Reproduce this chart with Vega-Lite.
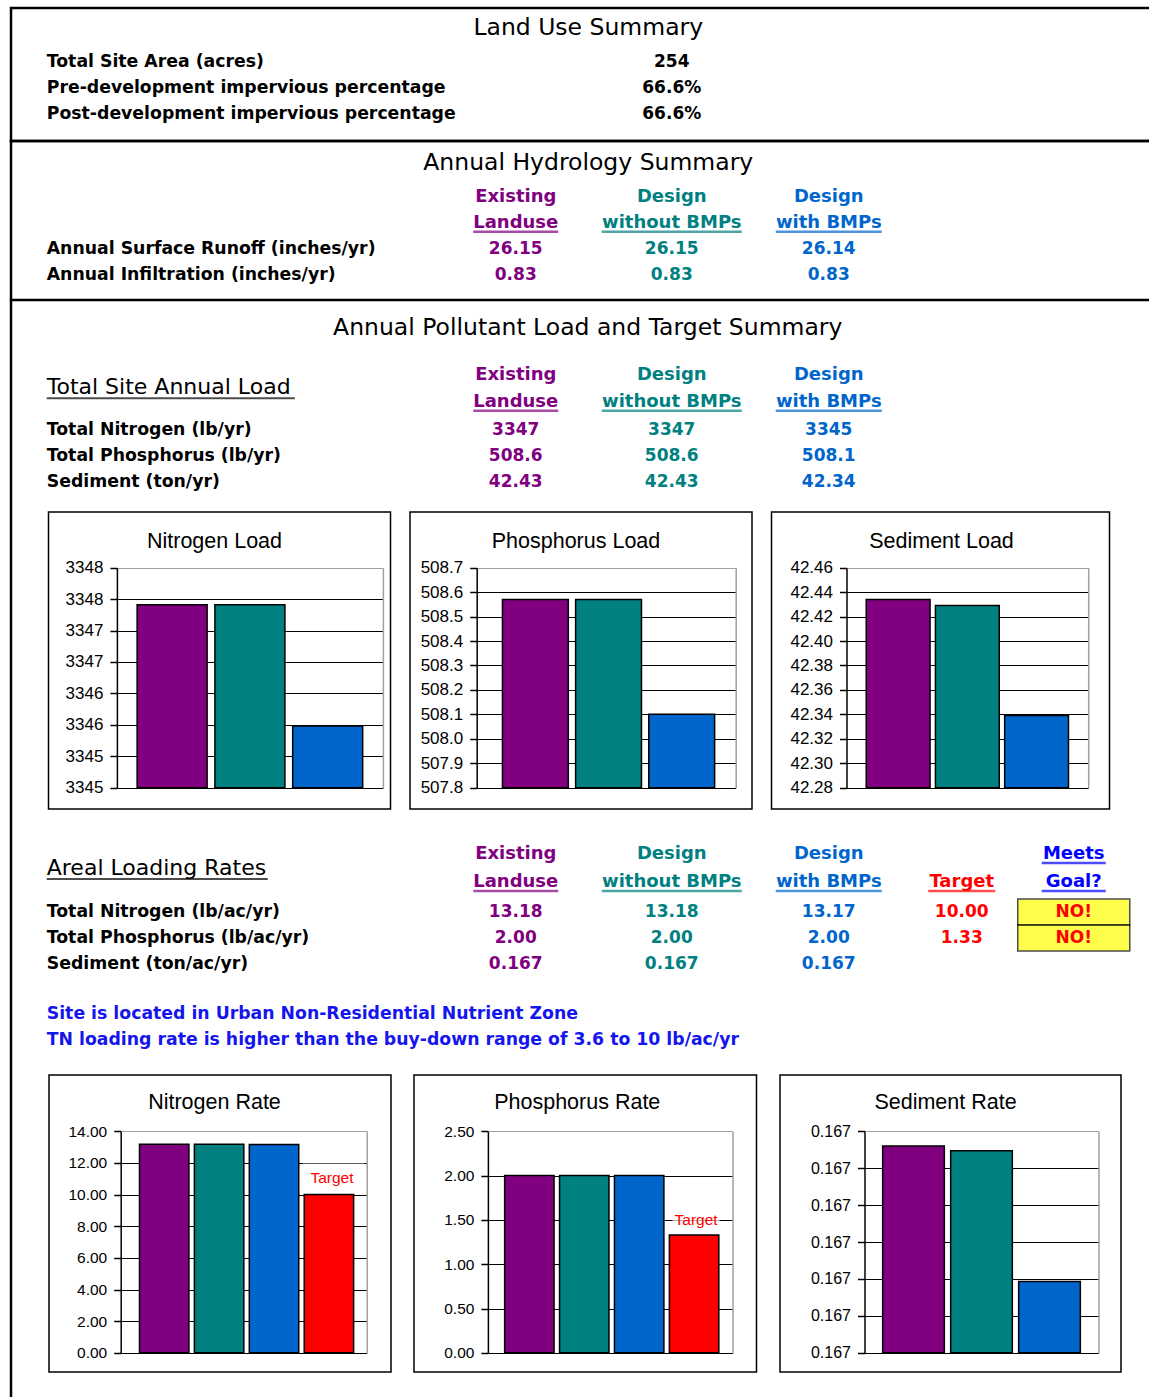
{
 "$schema": "https://vega.github.io/schema/vega-lite/v6.json",
 "background": "white",
 "padding": {"left": 9, "top": 6, "right": 0, "bottom": 0},
 "config": {
  "view": {"stroke": null},
  "font": "DejaVu Sans",
  "title": {"font": "DejaVu Sans", "fontSize": 23.5, "fontWeight": "normal", "color": "black", "frame": "group", "anchor": "middle", "baseline": "alphabetic"},
  "text": {"font": "DejaVu Sans", "baseline": "middle"},
  "axis": {"labelFont": "Liberation Sans", "labelColor": "black", "labelPadding": 7, "tickSize": 7, "tickColor": "black", "tickWidth": 1.5, "domainColor": "black", "domainWidth": 1.5, "gridWidth": 1.2, "gridOpacity": 1, "labelFlush": false, "labelOverlap": false, "labelBound": false}
 },
 "datasets": {
  "land": [
   {"r":1,"c":0,"t":"Total Site Area (acres)"},{"r":1,"c":2,"t":"254"},
   {"r":2,"c":0,"t":"Pre-development impervious percentage"},{"r":2,"c":2,"t":"66.6%"},
   {"r":3,"c":0,"t":"Post-development impervious percentage"},{"r":3,"c":2,"t":"66.6%"}
  ],
  "hyd": [
   {"r":1,"c":1,"t":"Existing"},{"r":1,"c":2,"t":"Design"},{"r":1,"c":3,"t":"Design"},
   {"r":2,"c":1,"t":"Landuse"},{"r":2,"c":2,"t":"without BMPs"},{"r":2,"c":3,"t":"with BMPs"},
   {"r":3,"c":0,"t":"Annual Surface Runoff (inches/yr)"},{"r":3,"c":1,"t":"26.15"},{"r":3,"c":2,"t":"26.15"},{"r":3,"c":3,"t":"26.14"},
   {"r":4,"c":0,"t":"Annual Infiltration (inches/yr)"},{"r":4,"c":1,"t":"0.83"},{"r":4,"c":2,"t":"0.83"},{"r":4,"c":3,"t":"0.83"}
  ],
  "load": [
   {"r":1,"c":1,"t":"Existing"},{"r":1,"c":2,"t":"Design"},{"r":1,"c":3,"t":"Design"},
   {"r":1.5,"c":0,"t":"Total Site Annual Load"},
   {"r":2,"c":1,"t":"Landuse"},{"r":2,"c":2,"t":"without BMPs"},{"r":2,"c":3,"t":"with BMPs"},
   {"r":3,"c":0,"t":"Total Nitrogen (lb/yr)"},{"r":3,"c":1,"t":"3347"},{"r":3,"c":2,"t":"3347"},{"r":3,"c":3,"t":"3345"},
   {"r":4,"c":0,"t":"Total Phosphorus (lb/yr)"},{"r":4,"c":1,"t":"508.6"},{"r":4,"c":2,"t":"508.6"},{"r":4,"c":3,"t":"508.1"},
   {"r":5,"c":0,"t":"Sediment (ton/yr)"},{"r":5,"c":1,"t":"42.43"},{"r":5,"c":2,"t":"42.43"},{"r":5,"c":3,"t":"42.34"}
  ],
  "areal": [
   {"r":1,"c":1,"t":"Existing"},{"r":1,"c":2,"t":"Design"},{"r":1,"c":3,"t":"Design"},{"r":1,"c":5,"t":"Meets"},
   {"r":1.5,"c":0,"t":"Areal Loading Rates"},
   {"r":2,"c":1,"t":"Landuse"},{"r":2,"c":2,"t":"without BMPs"},{"r":2,"c":3,"t":"with BMPs"},{"r":2,"c":4,"t":"Target"},{"r":2,"c":5,"t":"Goal?"},
   {"r":3,"c":0,"t":"Total Nitrogen (lb/ac/yr)"},{"r":3,"c":1,"t":"13.18"},{"r":3,"c":2,"t":"13.18"},{"r":3,"c":3,"t":"13.17"},{"r":3,"c":4,"t":"10.00"},{"r":3,"c":5,"t":"NO!"},
   {"r":4,"c":0,"t":"Total Phosphorus (lb/ac/yr)"},{"r":4,"c":1,"t":"2.00"},{"r":4,"c":2,"t":"2.00"},{"r":4,"c":3,"t":"2.00"},{"r":4,"c":4,"t":"1.33"},{"r":4,"c":5,"t":"NO!"},
   {"r":5,"c":0,"t":"Sediment (ton/ac/yr)"},{"r":5,"c":1,"t":"0.167"},{"r":5,"c":2,"t":"0.167"},{"r":5,"c":3,"t":"0.167"},
   {"r":6,"c":0,"t":"Site is located in Urban Non-Residential Nutrient Zone"},
   {"r":7,"c":0,"t":"TN loading rate is higher than the buy-down range of 3.6 to 10 lb/ac/yr"}
  ],
  "nload": [{"s":"Existing Landuse","v":3347.41},{"s":"Design without BMPs","v":3347.41},{"s":"Design with BMPs","v":3345.48}],
  "pload": [{"s":"Existing Landuse","v":508.57},{"s":"Design without BMPs","v":508.57},{"s":"Design with BMPs","v":508.1}],
  "sload": [{"s":"Existing Landuse","v":42.434},{"s":"Design without BMPs","v":42.429},{"s":"Design with BMPs","v":42.339}],
  "nrate": [{"s":"Existing Landuse","v":13.18},{"s":"Design without BMPs","v":13.18},{"s":"Design with BMPs","v":13.17},{"s":"Target","v":10.0}],
  "prate": [{"s":"Existing Landuse","v":2.0},{"s":"Design without BMPs","v":2.0},{"s":"Design with BMPs","v":2.0},{"s":"Target","v":1.33}],
  "srate": [{"s":"Existing Landuse","v":0.16706},{"s":"Design without BMPs","v":0.167047},{"s":"Design with BMPs","v":0.166693}]
 },
 "spacing": 0,
 "bounds": "flush",
 "resolve": {"scale": {"color": "independent"}},
 "vconcat": [
  {
   "width": 1138, "height": 133,
   "view": {"stroke": "black", "strokeWidth": 2.5, "strokeDash": [1138, 133, 1271]},
   "title": {"text": "Land Use Summary", "offset": -31.5, "dx": 8.25},
   "data": {"name": "land"},
   "encoding": {
    "x": {"field": "c", "type": "quantitative", "axis": null, "scale": {"domain": [0,1,2,3,4,5], "range": [35.75,504.75,660.75,817.75,950.75,1062.75], "zero": false, "nice": false}},
    "y": {"field": "r", "type": "quantitative", "axis": null, "scale": {"domain": [1,3], "range": [53.75,105.75], "zero": false, "nice": false}}
   },
   "layer": [
    {"transform": [{"filter": "datum.c == 0"}], "mark": {"type": "text", "align": "left", "fontWeight": "bold", "fontSize": 17.3, "color": "black"}, "encoding": {"text": {"field": "t", "type": "nominal"}}},
    {"transform": [{"filter": "datum.c > 0"}], "mark": {"type": "text", "align": "center", "fontWeight": "bold", "fontSize": 17, "color": "black"}, "encoding": {"text": {"field": "t", "type": "nominal"}}}
   ]
  },
  {
   "width": 1138, "height": 159,
   "view": {"stroke": "black", "strokeWidth": 2.5, "strokeDash": [1138, 159, 1297]},
   "title": {"text": "Annual Hydrology Summary", "offset": -33, "dx": 8.25},
   "data": {"name": "hyd"},
   "encoding": {
    "x": {"field": "c", "type": "quantitative", "axis": null, "scale": {"domain": [0,1,2,3,4,5], "range": [35.75,504.75,660.75,817.75,950.75,1062.75], "zero": false, "nice": false}},
    "y": {"field": "r", "type": "quantitative", "axis": null, "scale": {"domain": [1,4], "range": [55.75,133.75], "zero": false, "nice": false}}
   },
   "layer": [
    {"transform": [{"filter": "datum.r <= 2 && datum.c > 0"}], "mark": {"type": "text", "align": "center", "fontWeight": "bold", "fontSize": 18},
     "encoding": {"text": {"field": "t", "type": "nominal"}, "color": {"field": "c", "type": "ordinal", "scale": {"domain": [0,1,2,3,4,5], "range": ["black","#800080","#008080","#0066CC","#FF0000","#0000FF"]}, "legend": null}}},
    {"transform": [{"filter": "datum.c == 0"}], "mark": {"type": "text", "align": "left", "fontWeight": "bold", "fontSize": 17.3, "color": "black"}, "encoding": {"text": {"field": "t", "type": "nominal"}}},
    {"transform": [{"filter": "datum.r >= 3 && datum.c > 0"}], "mark": {"type": "text", "align": "center", "fontWeight": "bold", "fontSize": 17},
     "encoding": {"text": {"field": "t", "type": "nominal"}, "color": {"field": "c", "type": "ordinal", "legend": null}}},
    {"transform": [{"filter": "datum.r == 2 && datum.c > 0"}], "mark": {"type": "tick", "orient": "horizontal", "thickness": 2.3, "yOffset": 9},
     "encoding": {"color": {"field": "c", "type": "ordinal", "legend": null},
      "size": {"condition": [{"test": "datum.c == 1", "value": 85}, {"test": "datum.c == 2", "value": 140}], "value": 106}}}
   ]
  },
  {
   "spacing": 0,
   "bounds": "flush",
   "resolve": {"scale": {"color": "independent"}},
   "hconcat": [
    {
     "width": 2, "height": 1097.75,
     "data": {"values": [{}]},
     "mark": {"type": "rule", "strokeWidth": 2.5, "color": "black"},
     "encoding": {"x": {"datum": 0, "type": "quantitative", "scale": {"domain": [0, 1]}, "axis": null}}
    },
    {
     "spacing": 0,
     "resolve": {"scale": {"color": "independent"}},
     "vconcat": [
      {
       "width": 1136, "height": 211,
       "title": {"text": "Annual Pollutant Load and Target Summary", "offset": -39, "dx": 6.75},
       "data": {"name": "load"},
       "encoding": {
        "x": {"field": "c", "type": "quantitative", "axis": null, "scale": {"domain": [0,1,2,3,4,5], "range": [33.75,502.75,658.75,815.75,948.75,1060.75], "zero": false, "nice": false}},
        "y": {"field": "r", "type": "quantitative", "axis": null, "scale": {"domain": [1,2,3,5], "range": [74.75,101.75,129.75,181.75], "zero": false, "nice": false}}
       },
       "layer": [
        {"transform": [{"filter": "datum.r <= 2 && datum.c > 0"}], "mark": {"type": "text", "align": "center", "fontWeight": "bold", "fontSize": 18},
         "encoding": {"text": {"field": "t", "type": "nominal"}, "color": {"field": "c", "type": "ordinal", "scale": {"domain": [0,1,2,3,4,5], "range": ["black","#800080","#008080","#0066CC","#FF0000","#0000FF"]}, "legend": null}}},
        {"transform": [{"filter": "datum.r == 1.5"}], "mark": {"type": "text", "align": "left", "fontWeight": "normal", "fontSize": 22, "color": "black", "dy": -1}, "encoding": {"text": {"field": "t", "type": "nominal"}}},
        {"transform": [{"filter": "datum.c == 0 && datum.r >= 3"}], "mark": {"type": "text", "align": "left", "fontWeight": "bold", "fontSize": 17.3, "color": "black"}, "encoding": {"text": {"field": "t", "type": "nominal"}}},
        {"transform": [{"filter": "datum.r >= 3 && datum.c > 0"}], "mark": {"type": "text", "align": "center", "fontWeight": "bold", "fontSize": 17},
         "encoding": {"text": {"field": "t", "type": "nominal"}, "color": {"field": "c", "type": "ordinal", "legend": null}}},
        {"transform": [{"filter": "datum.r == 2 && datum.c > 0"}], "mark": {"type": "tick", "orient": "horizontal", "thickness": 2.3, "yOffset": 9},
         "encoding": {"color": {"field": "c", "type": "ordinal", "legend": null},
          "size": {"condition": [{"test": "datum.c == 1", "value": 85}, {"test": "datum.c == 2", "value": 140}], "value": 106}}},
        {"transform": [{"filter": "datum.r == 1.5"}], "mark": {"type": "tick", "orient": "horizontal", "thickness": 2, "size": 248, "xOffset": 124, "yOffset": 10, "color": "black"}}
       ]
      },
      {
       "spacing": 17.5,
       "hconcat": [
        {"width": 16.8, "height": 200, "data": {"values": [{}]}, "mark": {"type": "text", "text": ""}},
        {
         "width": 342, "height": 297,
         "view": {"stroke": "black", "strokeWidth": 1.5, "fill": "white"},
         "title": {"text": "Nitrogen Load", "font": "Liberation Sans", "fontSize": 21.5, "offset": -40, "dx": -5},
         "data": {"name": "nload"},
         "layer": [
          {"mark": {"type": "bar", "stroke": "black", "strokeWidth": 1.5},
           "encoding": {
            "x": {"field": "s", "type": "nominal", "sort": null, "axis": null, "scale": {"range": [68.4, 334.4], "paddingInner": 0.1, "paddingOuter": 0.26}},
            "y": {"field": "v", "type": "quantitative", "scale": {"domain": [3344.5, 3348], "range": [275.7, 55.7], "zero": false, "nice": false},
             "axis": {"orient": "left", "offset": -68.4, "title": null, "grid": true, "values": [3344.5,3345,3345.5,3346,3346.5,3347,3347.5,3348], "format": ".0f", "labelFontSize": 17,
              "gridColor": {"condition": {"test": "datum.value >= 3347.999", "value": "#a0a0a0"}, "value": "black"}}},
            "y2": {"datum": 3344.5},
            "color": {"field": "s", "type": "nominal", "scale": {"domain": ["Existing Landuse","Design without BMPs","Design with BMPs","Target"], "range": ["#800080","#008080","#0066CC","#FF0000"]}, "legend": null}
           }},
          {"mark": {"type": "point", "opacity": 0},
           "encoding": {"y": {"field": "v", "type": "quantitative", "axis": {"orient": "right", "offset": -7.6, "title": null, "labels": false, "ticks": false, "grid": false, "domainColor": "#a0a0a0"}}}}
         ],
         "resolve": {"axis": {"y": "independent"}}
        },
        {
         "width": 342, "height": 297,
         "view": {"stroke": "black", "strokeWidth": 1.5, "fill": "white"},
         "title": {"text": "Phosphorus Load", "font": "Liberation Sans", "fontSize": 21.5, "offset": -40, "dx": -5},
         "data": {"name": "pload"},
         "layer": [
          {"mark": {"type": "bar", "stroke": "black", "strokeWidth": 1.5},
           "encoding": {
            "x": {"field": "s", "type": "nominal", "sort": null, "axis": null, "scale": {"range": [66.7, 325.7], "paddingInner": 0.1, "paddingOuter": 0.32, "align": 0.55}},
            "y": {"field": "v", "type": "quantitative", "scale": {"domain": [507.8, 508.7], "range": [275.7, 55.7], "zero": false, "nice": false},
             "axis": {"orient": "left", "offset": -66.7, "title": null, "grid": true, "values": [507.8,507.9,508.0,508.1,508.2,508.3,508.4,508.5,508.6,508.7], "format": ".1f", "labelFontSize": 17,
              "gridColor": {"condition": {"test": "datum.value >= 508.69", "value": "#a0a0a0"}, "value": "black"}}},
            "y2": {"datum": 507.8},
            "color": {"field": "s", "type": "nominal", "scale": {"domain": ["Existing Landuse","Design without BMPs","Design with BMPs","Target"], "range": ["#800080","#008080","#0066CC","#FF0000"]}, "legend": null}
           }},
          {"mark": {"type": "point", "opacity": 0},
           "encoding": {"y": {"field": "v", "type": "quantitative", "axis": {"orient": "right", "offset": -16.3, "title": null, "labels": false, "ticks": false, "grid": false, "domainColor": "#a0a0a0"}}}}
         ],
         "resolve": {"axis": {"y": "independent"}}
        },
        {
         "width": 338, "height": 297,
         "view": {"stroke": "black", "strokeWidth": 1.5, "fill": "white"},
         "title": {"text": "Sediment Load", "font": "Liberation Sans", "fontSize": 21.5, "offset": -40, "dx": 1},
         "data": {"name": "sload"},
         "layer": [
          {"mark": {"type": "bar", "stroke": "black", "strokeWidth": 1.5},
           "encoding": {
            "x": {"field": "s", "type": "nominal", "sort": null, "axis": null, "scale": {"range": [75, 316.7], "paddingInner": 0.078, "paddingOuter": 0.285}},
            "y": {"field": "v", "type": "quantitative", "scale": {"domain": [42.28, 42.46], "range": [275.7, 55.7], "zero": false, "nice": false},
             "axis": {"orient": "left", "offset": -75, "title": null, "grid": true, "values": [42.28,42.30,42.32,42.34,42.36,42.38,42.40,42.42,42.44,42.46], "format": ".2f", "labelFontSize": 17,
              "gridColor": {"condition": {"test": "datum.value >= 42.459", "value": "#a0a0a0"}, "value": "black"}}},
            "y2": {"datum": 42.28},
            "color": {"field": "s", "type": "nominal", "scale": {"domain": ["Existing Landuse","Design without BMPs","Design with BMPs","Target"], "range": ["#800080","#008080","#0066CC","#FF0000"]}, "legend": null}
           }},
          {"mark": {"type": "point", "opacity": 0},
           "encoding": {"y": {"field": "v", "type": "quantitative", "axis": {"orient": "right", "offset": -21.3, "title": null, "labels": false, "ticks": false, "grid": false, "domainColor": "#a0a0a0"}}}}
         ],
         "resolve": {"axis": {"y": "independent"}}
        }
       ]
      },
      {
       "width": 1136, "height": 263.5,
       "data": {"name": "areal"},
       "encoding": {
        "x": {"field": "c", "type": "quantitative", "axis": null, "scale": {"domain": [0,1,2,3,4,5], "range": [33.75,502.75,658.75,815.75,948.75,1060.75], "zero": false, "nice": false}},
        "y": {"field": "r", "type": "quantitative", "axis": null, "scale": {"domain": [1,2,3,5,6,7], "range": [44,72,102,154,204,230], "zero": false, "nice": false}}
       },
       "layer": [
        {"transform": [{"filter": "datum.r <= 2 && datum.c > 0"}], "mark": {"type": "text", "align": "center", "fontWeight": "bold", "fontSize": 18},
         "encoding": {"text": {"field": "t", "type": "nominal"}, "color": {"field": "c", "type": "ordinal", "scale": {"domain": [0,1,2,3,4,5], "range": ["black","#800080","#008080","#0066CC","#FF0000","#0000FF"]}, "legend": null}}},
        {"transform": [{"filter": "datum.r == 1.5"}], "mark": {"type": "text", "align": "left", "fontWeight": "normal", "fontSize": 22, "color": "black"}, "encoding": {"text": {"field": "t", "type": "nominal"}}},
        {"transform": [{"filter": "datum.c == 0 && datum.r >= 3 && datum.r <= 5"}], "mark": {"type": "text", "align": "left", "fontWeight": "bold", "fontSize": 17.3, "color": "black"}, "encoding": {"text": {"field": "t", "type": "nominal"}}},
        {"transform": [{"filter": "datum.r >= 6"}], "mark": {"type": "text", "align": "left", "fontWeight": "bold", "fontSize": 17.3, "color": "#1515EE"}, "encoding": {"text": {"field": "t", "type": "nominal"}}},
        {"transform": [{"filter": "datum.t == 'NO!'"}], "mark": {"type": "tick", "orient": "horizontal", "size": 112, "thickness": 26, "color": "#FFFF00", "stroke": "black", "strokeWidth": 1.5}},
        {"transform": [{"filter": "datum.r >= 3 && datum.r <= 5 && datum.c > 0 && datum.t != 'NO!'"}], "mark": {"type": "text", "align": "center", "fontWeight": "bold", "fontSize": 17},
         "encoding": {"text": {"field": "t", "type": "nominal"}, "color": {"field": "c", "type": "ordinal", "legend": null}}},
        {"transform": [{"filter": "datum.t == 'NO!'"}], "mark": {"type": "text", "align": "center", "fontWeight": "bold", "fontSize": 17, "color": "#FF0000"}, "encoding": {"text": {"field": "t", "type": "nominal"}}},
        {"transform": [{"filter": "(datum.r == 2 && datum.c > 0) || (datum.r == 1 && datum.c == 5)"}], "mark": {"type": "tick", "orient": "horizontal", "thickness": 2.3, "yOffset": 9},
         "encoding": {"color": {"field": "c", "type": "ordinal", "legend": null},
          "size": {"condition": [{"test": "datum.c == 1", "value": 85}, {"test": "datum.c == 2", "value": 140}, {"test": "datum.c == 3", "value": 106}, {"test": "datum.c == 4", "value": 67}], "value": 64}}},
        {"transform": [{"filter": "datum.r == 1.5"}], "mark": {"type": "tick", "orient": "horizontal", "thickness": 2, "size": 221, "xOffset": 110.5, "yOffset": 11, "color": "black"}}
       ]
      },
      {
       "spacing": 21,
       "hconcat": [
        {"width": 13.3, "height": 200, "data": {"values": [{}]}, "mark": {"type": "text", "text": ""}},
        {
         "width": 342, "height": 297,
         "view": {"stroke": "black", "strokeWidth": 1.5, "fill": "white"},
         "title": {"text": "Nitrogen Rate", "font": "Liberation Sans", "fontSize": 21.5, "offset": -38.5, "dx": -5.5},
         "data": {"name": "nrate"},
         "layer": [
          {"mark": {"type": "bar", "stroke": "black", "strokeWidth": 1.5},
           "encoding": {
            "x": {"field": "s", "type": "nominal", "sort": null, "axis": null, "scale": {"range": [71.7, 317.7], "paddingInner": 0.1, "paddingOuter": 0.29, "align": 0.59}},
            "y": {"field": "v", "type": "quantitative", "scale": {"domain": [0, 14], "range": [277.8, 56.3], "zero": false, "nice": false},
             "axis": {"orient": "left", "offset": -71.7, "title": null, "grid": true, "values": [0,2,4,6,8,10,12,14], "format": ".2f", "labelFontSize": 15.5,
              "gridColor": {"condition": {"test": "datum.value >= 13.99", "value": "#a0a0a0"}, "value": "black"}}},
            "y2": {"datum": 0},
            "color": {"field": "s", "type": "nominal", "scale": {"domain": ["Existing Landuse","Design without BMPs","Design with BMPs","Target"], "range": ["#800080","#008080","#0066CC","#FF0000"]}, "legend": null}
           }},
          {"transform": [{"filter": "datum.s == 'Target'"}],
           "mark": {"type": "tick", "orient": "horizontal", "size": 62, "thickness": 29, "color": "white", "xOffset": 5, "yOffset": -16.5},
           "encoding": {"x": {"field": "s", "type": "nominal", "sort": null}, "y": {"field": "v", "type": "quantitative", "axis": null}}},
          {"transform": [{"filter": "datum.s == 'Target'"}],
           "mark": {"type": "text", "font": "Liberation Sans", "fontSize": 15.5, "color": "#FF0000", "dx": 3, "dy": -16.5},
           "encoding": {"x": {"field": "s", "type": "nominal", "sort": null}, "y": {"field": "v", "type": "quantitative", "axis": null}, "text": {"field": "s", "type": "nominal"}}},
          {"mark": {"type": "point", "opacity": 0},
           "encoding": {"y": {"field": "v", "type": "quantitative", "axis": {"orient": "right", "offset": -24.3, "title": null, "labels": false, "ticks": false, "grid": false, "domainColor": "#a0a0a0"}}}}
         ],
         "resolve": {"axis": {"y": "independent"}}
        },
        {
         "width": 342.5, "height": 297,
         "view": {"stroke": "black", "strokeWidth": 1.5, "fill": "white"},
         "title": {"text": "Phosphorus Rate", "font": "Liberation Sans", "fontSize": 21.5, "offset": -38.5, "dx": -8},
         "data": {"name": "prate"},
         "layer": [
          {"mark": {"type": "bar", "stroke": "black", "strokeWidth": 1.5},
           "encoding": {
            "x": {"field": "s", "type": "nominal", "sort": null, "axis": null, "scale": {"range": [73.9, 318.5], "paddingInner": 0.1, "paddingOuter": 0.277, "align": 0.55}},
            "y": {"field": "v", "type": "quantitative", "scale": {"domain": [0, 2.5], "range": [277.8, 56.3], "zero": false, "nice": false},
             "axis": {"orient": "left", "offset": -73.9, "title": null, "grid": true, "values": [0,0.5,1,1.5,2,2.5], "format": ".2f", "labelFontSize": 15.5,
              "gridColor": {"condition": {"test": "datum.value >= 2.499", "value": "#a0a0a0"}, "value": "black"}}},
            "y2": {"datum": 0},
            "color": {"field": "s", "type": "nominal", "scale": {"domain": ["Existing Landuse","Design without BMPs","Design with BMPs","Target"], "range": ["#800080","#008080","#0066CC","#FF0000"]}, "legend": null}
           }},
          {"transform": [{"filter": "datum.s == 'Target'"}],
           "mark": {"type": "tick", "orient": "horizontal", "size": 47, "thickness": 15, "color": "white", "xOffset": 2, "yOffset": -16},
           "encoding": {"x": {"field": "s", "type": "nominal", "sort": null}, "y": {"field": "v", "type": "quantitative", "axis": null}}},
          {"transform": [{"filter": "datum.s == 'Target'"}],
           "mark": {"type": "text", "font": "Liberation Sans", "fontSize": 15.5, "color": "#FF0000", "dx": 2, "dy": -15},
           "encoding": {"x": {"field": "s", "type": "nominal", "sort": null}, "y": {"field": "v", "type": "quantitative", "axis": null}, "text": {"field": "s", "type": "nominal"}}},
          {"mark": {"type": "point", "opacity": 0},
           "encoding": {"y": {"field": "v", "type": "quantitative", "axis": {"orient": "right", "offset": -24, "title": null, "labels": false, "ticks": false, "grid": false, "domainColor": "#a0a0a0"}}}}
         ],
         "resolve": {"axis": {"y": "independent"}}
        },
        {
         "width": 341, "height": 297,
         "view": {"stroke": "black", "strokeWidth": 1.5, "fill": "white"},
         "title": {"text": "Sediment Rate", "font": "Liberation Sans", "fontSize": 21.5, "offset": -38.5, "dx": -5},
         "data": {"name": "srate"},
         "layer": [
          {"mark": {"type": "bar", "stroke": "black", "strokeWidth": 1.5},
           "encoding": {
            "x": {"field": "s", "type": "nominal", "sort": null, "axis": null, "scale": {"range": [84.5, 318.5], "paddingInner": 0.093, "paddingOuter": 0.267}},
            "y": {"field": "v", "type": "quantitative", "scale": {"domain": [0.1665, 0.1671], "range": [277.8, 56.3], "zero": false, "nice": false},
             "axis": {"orient": "left", "offset": -84.5, "title": null, "grid": true, "values": [0.1665,0.1666,0.1667,0.1668,0.1669,0.167,0.1671], "labelExpr": "format(datum.value + 0.0000001, '.3f')", "labelFontSize": 16,
              "gridColor": {"condition": {"test": "datum.value >= 0.16709", "value": "#a0a0a0"}, "value": "black"}}},
            "y2": {"datum": 0.1665},
            "color": {"field": "s", "type": "nominal", "scale": {"domain": ["Existing Landuse","Design without BMPs","Design with BMPs","Target"], "range": ["#800080","#008080","#0066CC","#FF0000"]}, "legend": null}
           }},
          {"mark": {"type": "point", "opacity": 0},
           "encoding": {"y": {"field": "v", "type": "quantitative", "axis": {"orient": "right", "offset": -22.5, "title": null, "labels": false, "ticks": false, "grid": false, "domainColor": "#a0a0a0"}}}}
         ],
         "resolve": {"axis": {"y": "independent"}}
        }
       ]
      }
     ]
    }
   ]
  }
 ]
}
